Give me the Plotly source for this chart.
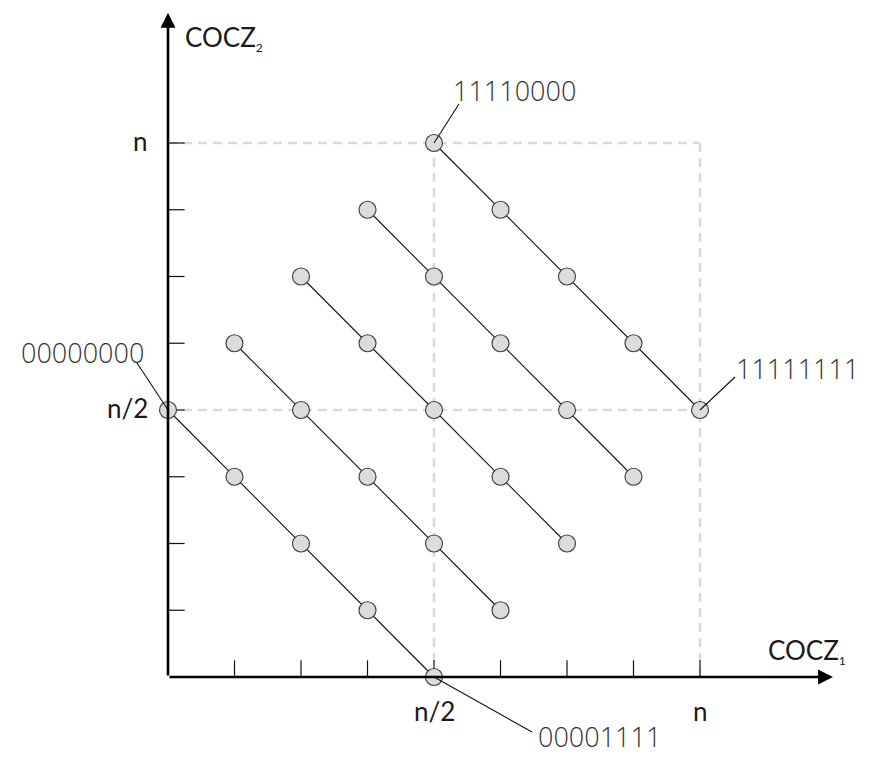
import plotly.graph_objects as go

# ---- data ----
n = 8
series_x = [
    [0, 1, 2, 3, 4],
    [1, 2, 3, 4, 5],
    [2, 3, 4, 5, 6],
    [3, 4, 5, 6, 7],
    [4, 5, 6, 7, 8],
]
series_y = [
    [4, 3, 2, 1, 0],
    [5, 4, 3, 2, 1],
    [6, 5, 4, 3, 2],
    [7, 6, 5, 4, 3],
    [8, 7, 6, 5, 4],
]
tick_values = [1, 2, 3, 4, 5, 6, 7, 8]
tick_label_values = [4, 8]
tick_label_texts = ["n/2", "n"]
callout_texts = ["11110000", "11111111", "00000000", "00001111"]
callout_x = [4, 8, 0, 4]
callout_y = [8, 4, 4, 0]
axis_titles = ["COCZ<sub><span style='font-size:12px'>1</span></sub>",
               "COCZ<sub><span style='font-size:12px'>2</span></sub>"]
axis_end = 10

# ---- styling / geometry ----
W, H = 872, 757
BODY = 8  # page margin around the figure
PX_X, PX_Y = 66.5, 66.75
ORIG_X, ORIG_Y = 168 - BODY, 677 - BODY
# callout line end offsets (px, y up), text offsets, anchors
callout_line = [(25, 39), (35, 33), (-31, 47), (98, -55)]
callout_text = [(17, 53), (34, 42), (-22, 58), (102, -59)]
callout_anchor = ["left", "left", "right", "left"]

LABEL_FONT = dict(family="Lato, 'Open Sans', sans-serif", size=26, color="#1a1a1a")
MONO_FONT = dict(family="'Open Sans', 'Noto Sans', sans-serif", size=27, color="#333", weight=300)

fig = go.Figure()

for xs, ys in zip(series_x, series_y):
    fig.add_trace(go.Scatter(
        x=xs, y=ys, mode="lines+markers",
        line=dict(color="#111", width=1.1),
        marker=dict(size=17, color="#dcdcdc", line=dict(color="#444", width=1.2)),
        hoverinfo="skip", showlegend=False,
    ))

shapes = []
dash_style = dict(color="#dadada", width=2.5, dash="9px,6px")
half = n / 2
# dashed guide lines
shapes.append(dict(type="line", x0=0, x1=n, y0=n, y1=n, line=dash_style, layer="below"))
shapes.append(dict(type="line", x0=0, x1=n, y0=half, y1=half, line=dash_style, layer="below"))
shapes.append(dict(type="line", x0=half, x1=half, y0=0, y1=n, line=dash_style, layer="below"))
shapes.append(dict(type="line", x0=n, x1=n, y0=0, y1=n, line=dash_style, layer="below"))

tick_len = 0.25
for t in tick_values:
    shapes.append(dict(type="line", x0=t, x1=t, y0=0, y1=tick_len,
                       line=dict(color="#111", width=1.2), layer="below"))
    shapes.append(dict(type="line", x0=0, x1=tick_len, y0=t, y1=t,
                       line=dict(color="#111", width=1.2), layer="below"))

# callout lines
for (px, py), (dx, dy) in zip(zip(callout_x, callout_y), callout_line):
    shapes.append(dict(type="line", xsizemode="pixel", ysizemode="pixel",
                       xanchor=px, yanchor=py, x0=0, x1=dx, y0=0, y1=dy,
                       line=dict(color="#111", width=1.1), layer="above"))

annotations = []
# axis arrows
for tip in [(axis_end, 0), (0, axis_end - 0.05)]:
    annotations.append(dict(x=tip[0], y=tip[1], ax=0, ay=0, axref="x", ayref="y",
                            xref="x", yref="y", showarrow=True, arrowhead=2,
                            arrowsize=1.15, arrowwidth=2.6, arrowcolor="#000", text=""))

# tick labels
for v, txt in zip(tick_label_values, tick_label_texts):
    annotations.append(dict(x=v, y=0, xref="x", yref="y", text=txt, showarrow=False,
                            xanchor="center", yanchor="middle", yshift=-34, font=LABEL_FONT))
    annotations.append(dict(x=0, y=v, xref="x", yref="y", text=txt, showarrow=False,
                            xanchor="right", yanchor="middle", xshift=-18, yshift=2, font=LABEL_FONT))

# axis titles
annotations.append(dict(x=n, y=0, xref="x", yref="y", text=axis_titles[0], showarrow=False,
                        xanchor="left", yanchor="middle", xshift=66, yshift=26, font=LABEL_FONT))
annotations.append(dict(x=0, y=axis_end, xref="x", yref="y", text=axis_titles[1], showarrow=False,
                        xanchor="left", yanchor="middle", xshift=15, yshift=-28, font=LABEL_FONT))

# callout texts
for txt, px, py, (tx, ty), anc in zip(callout_texts, callout_x, callout_y, callout_text, callout_anchor):
    annotations.append(dict(x=px, y=py, xref="x", yref="y", text=txt, showarrow=False,
                            xanchor=anc, yanchor="middle", xshift=tx, yshift=ty, font=MONO_FONT))

fig.update_layout(
    width=W, height=H, autosize=False,
    margin=dict(l=0, r=0, t=0, b=0, pad=0),
    paper_bgcolor="white", plot_bgcolor="white",
    xaxis=dict(range=[-ORIG_X / PX_X, (W - ORIG_X) / PX_X], visible=False, fixedrange=True),
    yaxis=dict(range=[-(H - ORIG_Y) / PX_Y, ORIG_Y / PX_Y], visible=False, fixedrange=True),
    shapes=shapes, annotations=annotations, showlegend=False,
)

fig.write_html("out.html", config={"displayModeBar": False})
